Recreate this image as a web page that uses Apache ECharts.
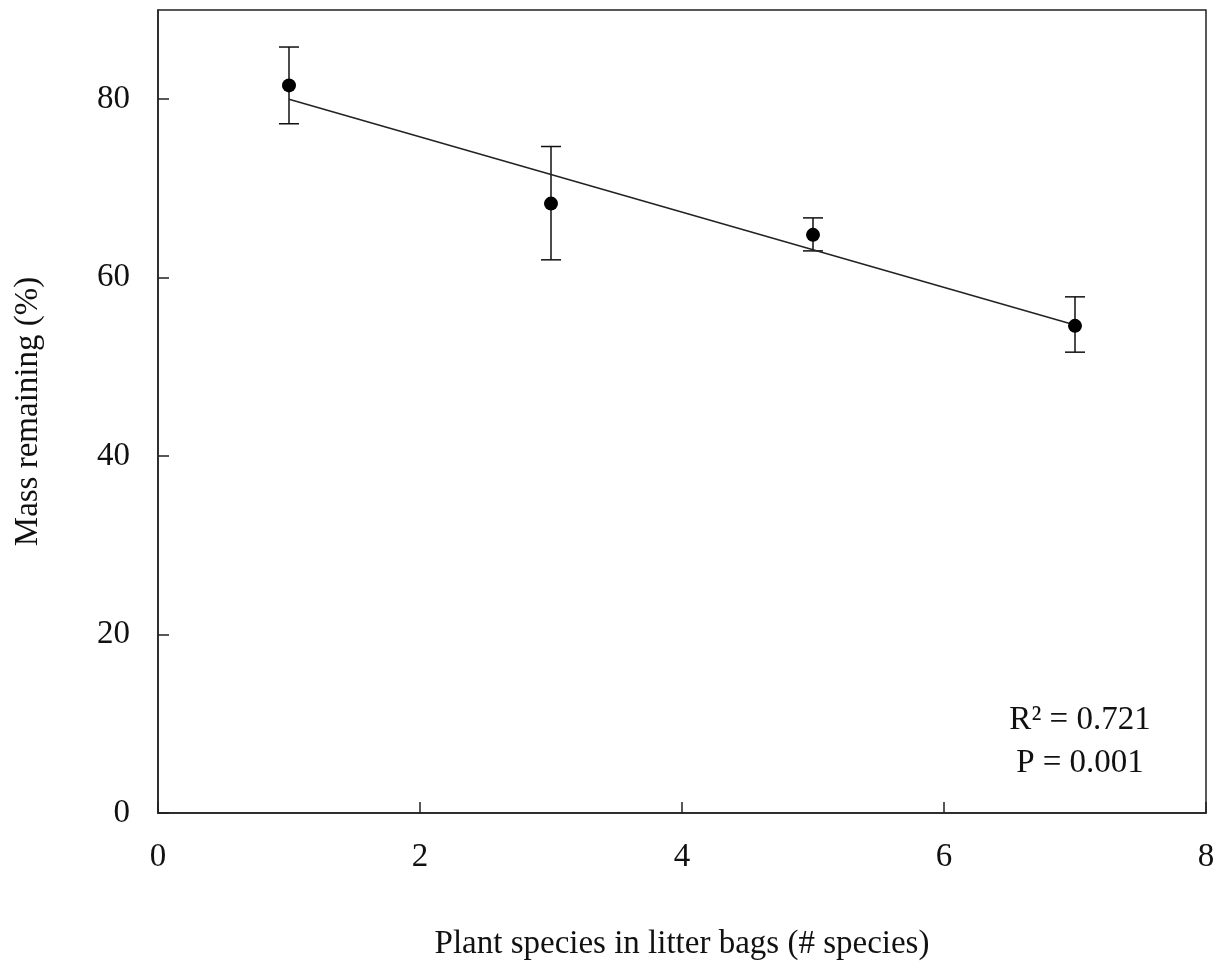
<!DOCTYPE html>
<html>
<head>
<meta charset="utf-8">
<script src="https://cdn.jsdelivr.net/npm/echarts@6/dist/echarts.min.js"></script>
<style>html,body{margin:0;padding:0;background:#fff}#c{width:1226px;height:970px}</style>
</head>
<body>
<div id="c"></div>
<script>
var species = [1, 3, 5, 7];
var massMean = [81.55, 68.3, 64.8, 54.6];
var errUpper = [85.85, 74.7, 66.7, 57.85];
var errLower = [77.25, 62.0, 63.0, 51.65];
var fitX = [1, 7];
var fitY = [80.0, 54.7];
var xTicks = [0, 2, 4, 6, 8];
var yTicks = [0, 20, 40, 60, 80];
var statLines = ['R\u00b2 = 0.721', 'P = 0.001'];

var FONT = '"Liberation Serif", "Times New Roman", serif';
var FS = 33;
var chart = echarts.init(document.getElementById('c'));

var pts = species.map(function (x, i) { return [x, massMean[i]]; });
var errs = species.map(function (x, i) { return [x, errLower[i], errUpper[i]]; });
var fit = fitX.map(function (x, i) { return [x, fitY[i]]; });

chart.setOption({
  animation: false,
  grid: { left: 158, right: 20, top: 10, bottom: 157, outerBoundsMode: 'none', containLabel: false,
    show: true, borderColor: '#222', borderWidth: 1.5, backgroundColor: 'transparent' },
  xAxis: {
    type: 'value', min: 0, max: 8, interval: 2,
    name: 'Plant species in litter bags (# species)', nameLocation: 'middle', nameGap: 115,
    nameTextStyle: { fontFamily: FONT, fontSize: FS, color: '#111' },
    axisLine: { show: true, lineStyle: { color: '#222', width: 1.5 } },
    axisTick: { show: true, inside: true, length: 11, customValues: xTicks, lineStyle: { color: '#222', width: 1.5 } },
    axisLabel: { fontFamily: FONT, fontSize: FS, color: '#111', margin: 28, customValues: xTicks },
    splitLine: { show: false }
  },
  yAxis: {
    type: 'value', min: 0, max: 90, interval: 20,
    name: 'Mass remaining (%)', nameLocation: 'middle', nameGap: 113,
    nameTextStyle: { fontFamily: FONT, fontSize: FS, color: '#111' },
    axisLine: { show: true, lineStyle: { color: '#222', width: 1.5 } },
    axisTick: { show: true, inside: true, length: 11, customValues: yTicks, lineStyle: { color: '#222', width: 1.5 } },
    axisLabel: { fontFamily: FONT, fontSize: FS, color: '#111', margin: 28, customValues: yTicks },
    splitLine: { show: false }
  },
  series: [
    {
      type: 'line', data: fit, symbol: 'none', silent: true,
      lineStyle: { color: '#222', width: 1.5 }
    },
    {
      type: 'custom', data: errs, silent: true,
      renderItem: function (params, api) {
        var x = api.value(0);
        var lo = api.coord([x, api.value(1)]);
        var hi = api.coord([x, api.value(2)]);
        var hw = 10;
        var st = { stroke: '#111', lineWidth: 1.5 };
        return { type: 'group', children: [
          { type: 'line', shape: { x1: lo[0], y1: lo[1], x2: hi[0], y2: hi[1] }, style: st },
          { type: 'line', shape: { x1: lo[0] - hw, y1: lo[1], x2: lo[0] + hw, y2: lo[1] }, style: st },
          { type: 'line', shape: { x1: hi[0] - hw, y1: hi[1], x2: hi[0] + hw, y2: hi[1] }, style: st }
        ] };
      },
      z: 3
    },
    {
      type: 'scatter', data: pts, symbol: 'circle', symbolSize: 14,
      itemStyle: { color: '#000', opacity: 1 }, z: 4
    }
  ],
  graphic: [
    { type: 'text', x: 1080, y: 720, style: { text: statLines[0], fontFamily: FONT, fontSize: FS, fill: '#111', textAlign: 'center', textVerticalAlign: 'middle' } },
    { type: 'text', x: 1080, y: 763, style: { text: statLines[1], fontFamily: FONT, fontSize: FS, fill: '#111', textAlign: 'center', textVerticalAlign: 'middle' } }
  ]
});
</script>
</body>
</html>
